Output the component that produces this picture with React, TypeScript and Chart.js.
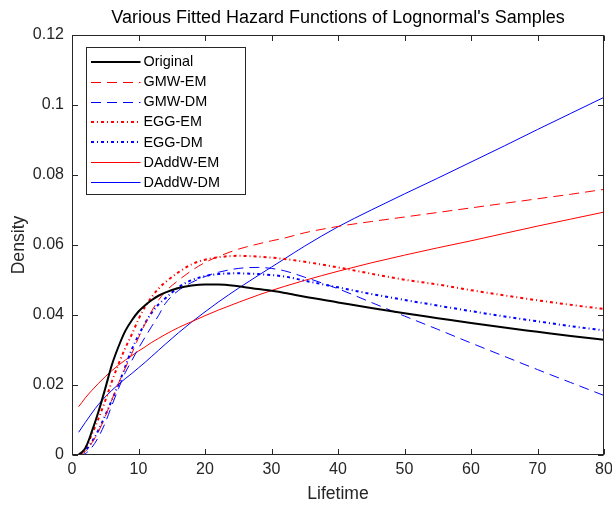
import React, { useEffect, useRef } from 'react';
import { Chart, registerables } from 'chart.js';

Chart.register(...registerables);

// ---- data ----
const TITLE = "Various Fitted Hazard Functions of Lognormal's Samples";
const X_LABEL = 'Lifetime';
const Y_LABEL = 'Density';

const LIFETIME = [1, 2, 3, 4, 5, 6, 7, 8, 9, 10, 11, 12, 13, 14, 16, 18, 20, 22, 25, 28, 30, 32, 35, 40, 45, 50, 55, 60, 65, 70, 75, 80];

const ORIGINAL = [0, 0.0019, 0.0068, 0.0125, 0.019, 0.0258, 0.031, 0.0354, 0.0385, 0.041, 0.0428, 0.0443, 0.0455, 0.0464, 0.0477, 0.0484, 0.0487, 0.0487, 0.0482, 0.0474, 0.0469, 0.0463, 0.0452, 0.0436, 0.042, 0.0405, 0.0391, 0.0377, 0.0364, 0.0352, 0.034, 0.0329];
const GMW_EM = [0, 0.001, 0.0035, 0.0068, 0.011, 0.0158, 0.0205, 0.0248, 0.029, 0.0335, 0.0375, 0.0412, 0.0442, 0.0466, 0.0499, 0.0527, 0.055, 0.0567, 0.0588, 0.0603, 0.0612, 0.062, 0.0635, 0.0653, 0.0667, 0.068, 0.0693, 0.0706, 0.0719, 0.0732, 0.0745, 0.0759];
const GMW_DM = [0, 0.0004, 0.0022, 0.0052, 0.0092, 0.0142, 0.019, 0.0235, 0.027, 0.0305, 0.0337, 0.0368, 0.0398, 0.0432, 0.047, 0.0493, 0.051, 0.0522, 0.0533, 0.0536, 0.0533, 0.0526, 0.0508, 0.0475, 0.0436, 0.0397, 0.0359, 0.032, 0.0282, 0.0244, 0.0207, 0.017];
const EGG_EM = [0, 0.002, 0.006, 0.0105, 0.0155, 0.021, 0.026, 0.0305, 0.0345, 0.0388, 0.0424, 0.0452, 0.0475, 0.0493, 0.0522, 0.0545, 0.0558, 0.0565, 0.0569, 0.0567, 0.0564, 0.056, 0.0552, 0.0536, 0.0518, 0.0501, 0.0487, 0.0471, 0.0456, 0.0442, 0.0429, 0.0417];
const EGG_DM = [0, 0.0012, 0.0038, 0.0072, 0.0113, 0.0157, 0.0202, 0.0252, 0.0302, 0.0342, 0.0377, 0.0407, 0.043, 0.0447, 0.0479, 0.05, 0.0511, 0.0517, 0.0519, 0.0517, 0.0514, 0.051, 0.0498, 0.0479, 0.046, 0.0443, 0.0427, 0.0411, 0.0396, 0.0382, 0.0368, 0.0356];
const DADDW_EM = [0.0138, 0.0163, 0.0185, 0.0205, 0.0224, 0.0241, 0.0257, 0.0271, 0.0284, 0.0297, 0.0309, 0.0322, 0.0333, 0.0344, 0.0364, 0.0381, 0.0398, 0.0414, 0.0436, 0.0457, 0.047, 0.0482, 0.0499, 0.0525, 0.0549, 0.0571, 0.0592, 0.0612, 0.0633, 0.0654, 0.0674, 0.0694];
const DADDW_DM = [0.0065, 0.0093, 0.012, 0.0145, 0.0166, 0.0185, 0.0202, 0.0218, 0.0233, 0.0249, 0.0265, 0.0282, 0.0299, 0.0316, 0.0349, 0.038, 0.0409, 0.0437, 0.0476, 0.0513, 0.0537, 0.0561, 0.0597, 0.0652, 0.07, 0.0746, 0.0791, 0.0837, 0.0883, 0.093, 0.0976, 0.1022];

const SERIES_NAMES = ['Original', 'GMW-EM', 'GMW-DM', 'EGG-EM', 'EGG-DM', 'DAddW-EM', 'DAddW-DM'];
const SERIES_VALUES = [ORIGINAL, GMW_EM, GMW_DM, EGG_EM, EGG_DM, DADDW_EM, DADDW_DM];

const X_MIN = 0, X_MAX = 80, X_STEP = 10;
const Y_MIN = 0, Y_MAX = 0.12, Y_STEP = 0.02;

// ---- styles ----
const RED = '#ff0000';
const BLUE = '#0000ff';
const AXIS = '#262626';
const FONT = "'Liberation Sans', Arial, Helvetica, sans-serif";
const DOTDASH = [3, 3, 1, 3];
const DASH = [10, 6];
const STYLES = [
  { color: '#000000', width: 2, dash: [] as number[] },
  { color: RED, width: 1, dash: DASH },
  { color: BLUE, width: 1, dash: DASH },
  { color: RED, width: 2, dash: DOTDASH },
  { color: BLUE, width: 2, dash: DOTDASH },
  { color: RED, width: 1, dash: [] as number[] },
  { color: BLUE, width: 1, dash: [] as number[] },
];

const framePlugin = {
  id: 'frame',
  afterDraw(chart: any) {
    const { ctx, chartArea: a, scales } = chart;
    const xs = scales.x, ys = scales.y;
    const L = Math.round(a.left) + 0.5, R = Math.round(a.right) - 0.5;
    const T = Math.round(a.top) + 0.5, B = Math.round(a.bottom) - 0.5;
    ctx.save();

    // title centred over the axes
    ctx.fillStyle = '#000000';
    ctx.font = `18px ${FONT}`;
    ctx.textAlign = 'center';
    ctx.textBaseline = 'middle';
    ctx.fillText(TITLE, (a.left + a.right) / 2, a.top - 16.5);

    ctx.strokeStyle = AXIS;
    ctx.lineWidth = 1;
    ctx.setLineDash([]);
    ctx.strokeRect(L, T, R - L, B - T);
    const tl = 5.5;
    ctx.beginPath();
    xs.ticks.forEach((t: any) => {
      const p = Math.round(xs.getPixelForValue(t.value)) + 0.5;
      ctx.moveTo(p, B); ctx.lineTo(p, B - tl);
      ctx.moveTo(p, T); ctx.lineTo(p, T + tl);
    });
    ys.ticks.forEach((t: any) => {
      const p = Math.round(ys.getPixelForValue(t.value)) + 0.5;
      ctx.moveTo(L, p); ctx.lineTo(L + tl, p);
      ctx.moveTo(R, p); ctx.lineTo(R - tl, p);
    });
    ctx.stroke();

    // legend
    const lx = Math.round(a.left + 13.5) + 0.5;
    const ty = Math.round(a.top + 11.5) + 0.5;
    const w = 159, h = 147;
    ctx.fillStyle = '#ffffff';
    ctx.fillRect(lx, ty, w, h);
    ctx.strokeStyle = AXIS;
    ctx.strokeRect(lx, ty, w, h);
    const rowH = 20.15;
    chart.data.datasets.forEach((ds: any, i: number) => {
      const cy = ty + 14 + i * rowH;
      ctx.save();
      ctx.strokeStyle = ds.borderColor;
      ctx.lineWidth = ds.borderWidth;
      ctx.setLineDash(ds.borderDash || []);
      ctx.beginPath();
      const yy = Math.round(cy) + (ds.borderWidth % 2 ? 0.5 : 0);
      ctx.moveTo(lx + 4.5, yy);
      ctx.lineTo(lx + 54, yy);
      ctx.stroke();
      ctx.restore();
      ctx.fillStyle = '#000000';
      ctx.font = `14.4px ${FONT}`;
      ctx.textBaseline = 'middle';
      ctx.textAlign = 'left';
      ctx.fillText(ds.label, lx + 57, cy + 0.5);
    });
    ctx.restore();
  },
};

export default function App() {
  const ref = useRef<HTMLCanvasElement | null>(null);
  useEffect(() => {
    document.body.style.margin = '0';
    const canvas = ref.current!;
    const datasets = SERIES_NAMES.map((name, i) => ({
      label: name,
      data: LIFETIME.map((x, j) => ({ x, y: SERIES_VALUES[i][j] })),
      borderColor: STYLES[i].color,
      backgroundColor: STYLES[i].color,
      borderWidth: STYLES[i].width,
      borderDash: STYLES[i].dash,
      borderCapStyle: 'butt' as const,
      pointRadius: 0,
      fill: false,
      cubicInterpolationMode: 'monotone' as const,
    }));
    const chart = new Chart(canvas, {
      type: 'line',
      data: { datasets },
      plugins: [framePlugin],
      options: {
        animation: false,
        responsive: false,
        devicePixelRatio: 1,
        layout: { padding: { left: 0, right: 8, top: 35, bottom: 0 } },
        plugins: {
          legend: { display: false },
          tooltip: { enabled: false },
          title: { display: false },
        },
        scales: {
          x: {
            type: 'linear',
            min: X_MIN,
            max: X_MAX,
            grid: { display: false, drawTicks: false },
            border: { display: false },
            ticks: {
              stepSize: X_STEP,
              color: AXIS,
              padding: 5.4,
              font: { family: FONT, size: 16 },
              maxRotation: 0,
              callback: (v: any) => String(Number(Number(v).toFixed(4))),
            },
            title: {
              display: true,
              text: X_LABEL,
              color: AXIS,
              font: { family: FONT, size: 17.6 },
              padding: { top: 0, bottom: 2.4 },
            },
            afterFit: (s: any) => { s.height = 52; s.paddingRight = 0; s.paddingLeft = 0; },
          },
          y: {
            type: 'linear',
            min: Y_MIN,
            max: Y_MAX,
            grid: { display: false, drawTicks: false },
            border: { display: false },
            ticks: {
              stepSize: Y_STEP,
              color: AXIS,
              padding: 8,
              font: { family: FONT, size: 16 },
              callback: (v: any) => String(Number(Number(v).toFixed(4))),
            },
            title: {
              display: true,
              text: Y_LABEL,
              color: AXIS,
              font: { family: FONT, size: 17.6 },
              padding: { top: 8.5, bottom: 0 },
            },
            afterFit: (s: any) => { s.width = 72; s.paddingTop = 0; s.paddingBottom = 0; },
          },
        },
      },
    });
    return () => chart.destroy();
  }, []);
  return (
    <div style={{ width: 612, height: 507 }}>
      <canvas ref={ref} width={612} height={507} style={{ display: 'block', width: 612, height: 507 }} />
    </div>
  );
}
